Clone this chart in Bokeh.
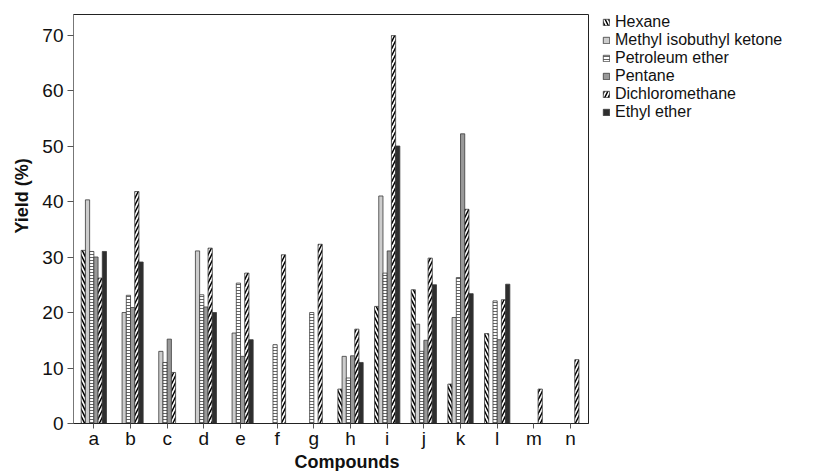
from bokeh.plotting import figure
from bokeh.models import Range1d, FixedTicker, Legend, LegendItem, Title, ColumnDataSource
from bokeh.embed import file_html
from bokeh.resources import INLINE

compounds = ["a", "b", "c", "d", "e", "f", "g", "h", "i", "j", "k", "l", "m", "n"]
series_names = ["Hexane", "Methyl isobuthyl ketone", "Petroleum ether", "Pentane",
                "Dichloromethane", "Ethyl ether"]
hexane = [31.2, 0, 0, 0, 0, 0, 0, 6.2, 21.1, 24.1, 7.1, 16.2, 0, 0]
methyl_isobutyl_ketone = [40.3, 20.0, 13.0, 31.1, 16.3, 0, 0, 12.1, 41.0, 17.9, 19.1, 0, 0, 0]
petroleum_ether = [31.0, 23.1, 11.0, 23.2, 25.3, 14.2, 20.0, 8.2, 27.1, 13.0, 26.3, 22.1, 0, 0]
pentane = [30.0, 20.9, 15.2, 21.0, 12.1, 0, 0, 12.2, 31.1, 15.0, 52.2, 15.1, 0, 0]
dichloromethane = [26.2, 41.8, 9.2, 31.6, 27.1, 30.4, 32.3, 17.0, 69.9, 29.8, 38.6, 22.3, 6.2, 11.5]
ethyl_ether = [31.0, 29.1, 0, 20.0, 15.1, 0, 0, 11.0, 50.0, 25.0, 23.4, 25.1, 0, 0]
y_ticks = [0, 10, 20, 30, 40, 50, 60, 70]

all_series = [hexane, methyl_isobutyl_ketone, petroleum_ether, pentane, dichloromethane, ethyl_ether]

styles = [
    dict(fill_color="white", hatch_pattern="\\", hatch_color="black", hatch_scale=7, hatch_weight=1.5),
    dict(fill_color="#cdcdcd"),
    dict(fill_color="white", hatch_pattern="-", hatch_color="#666666", hatch_scale=3, hatch_weight=1.0),
    dict(fill_color="#999999"),
    dict(fill_color="white", hatch_pattern="/", hatch_color="black", hatch_scale=7, hatch_weight=1.5),
    dict(fill_color="#2e2e2e"),
]

bw = 0.115

p = figure(frame_width=515, frame_height=409,
           x_range=Range1d(-0.555, 13.49), y_range=Range1d(0, 73.7),
           output_backend="svg", toolbar_location=None,
           min_border_left=73, min_border_top=14, min_border_bottom=0, min_border_right=0)

items = []
for k, (name, vals, st) in enumerate(zip(series_names, all_series, styles)):
    xs = [i + (k - 2.5) * bw for i, v in enumerate(vals) if v > 0]
    tops = [v for v in vals if v > 0]
    src = ColumnDataSource(dict(x=xs, top=tops))
    r = p.vbar(x="x", top="top", bottom=0, width=bw, source=src,
               line_color="#3a3a3a", line_width=0.8, **st)
    items.append(LegendItem(label=name, renderers=[r]))

legend = Legend(items=items, location=(14, 302), glyph_width=8, glyph_height=8,
                label_text_font_size="16px", label_text_font="Liberation Sans",
                label_text_color="#111111",
                label_standoff=5, spacing=0, padding=0, margin=0, label_height=16,
                border_line_color=None, background_fill_alpha=0)
p.add_layout(legend, "right")

p.xgrid.grid_line_color = None
p.ygrid.grid_line_color = None
p.outline_line_color = "#222222"

p.xaxis.ticker = FixedTicker(ticks=list(range(len(compounds))))
p.xaxis.major_label_overrides = {i: c for i, c in enumerate(compounds)}
p.xaxis.minor_tick_line_color = None
p.xaxis.major_tick_out = 5
p.xaxis.major_tick_in = 0
p.xaxis.major_label_standoff = -1
p.xaxis.major_label_text_font = "Liberation Sans"
p.xaxis.major_label_text_font_size = "19px"
p.xaxis.major_label_text_color = "#111111"
p.xaxis.axis_line_color = "#222222"
p.xaxis.major_tick_line_color = "#555555"

p.yaxis.ticker = FixedTicker(ticks=y_ticks)
p.yaxis.minor_tick_line_color = None
p.yaxis.major_tick_out = 6
p.yaxis.major_tick_in = 0
p.yaxis.major_label_standoff = 4
p.yaxis.major_label_text_font = "Liberation Sans"
p.yaxis.major_label_text_font_size = "19px"
p.yaxis.major_label_text_color = "#111111"
p.yaxis.axis_line_color = "#777777"
p.yaxis.major_tick_line_color = "#555555"

p.add_layout(Title(text="Yield (%)", align="left", offset=190, standoff=15,
                   text_font="Liberation Sans", text_font_size="18px",
                   text_font_style="bold", text_color="#111111"), "left")
p.add_layout(Title(text="Compounds", align="left", offset=221, standoff=0,
                   vertical_align="top",
                   text_font="Liberation Sans", text_font_size="18px",
                   text_font_style="bold", text_color="#111111"), "below")

open("out.html", "w").write(file_html(p, INLINE))
